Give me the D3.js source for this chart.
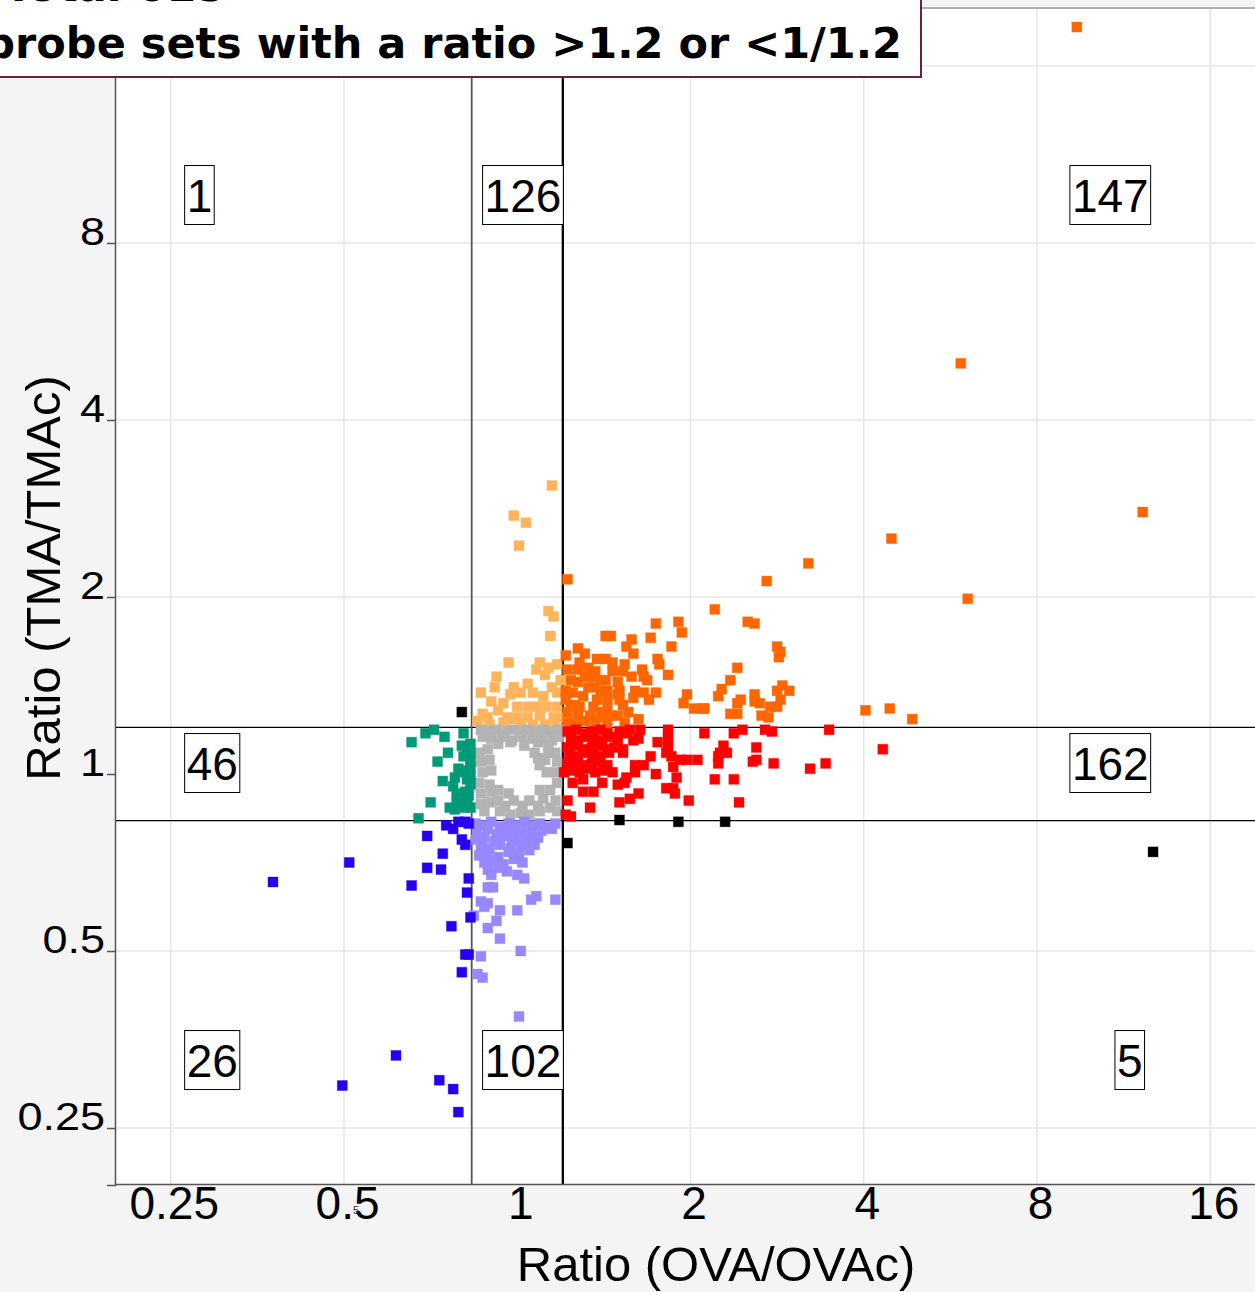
<!DOCTYPE html>
<html>
<head>
<meta charset="utf-8">
<script src="https://cdn.jsdelivr.net/npm/d3@7"></script>
<style>
  html, body { margin: 0; padding: 0; background: #f4f4f4; }
  svg { display: block; }
</style>
</head>
<body>
<svg id="chart" width="1255" height="1292"></svg>
<script>
// Each probe set is [log2(OVA/OVAc), log2(TMA/TMAc)].

// up in both comparisons
const upBoth = [
  [3.23,4.22],[2.56,2.32],[3.61,1.48],[2.16,1.33],[2.60,0.99],[1.68,1.19],[1.44,1.09],[0.29,1.10],
  [1.14,0.93],[2.01,0.36],[2.15,0.37],[2.28,0.31],[1.33,0.86],[1.37,0.85],[1.50,0.72],[1.52,0.69],
  [1.51,0.66],[1.27,0.60],[1.23,0.53],[1.18,0.48],[1.16,0.44],[1.29,0.42],[1.27,0.40],[1.23,0.34],
  [1.27,0.34],[1.08,0.37],[1.37,0.45],[1.40,0.40],[1.37,0.41],[1.50,0.47],[1.53,0.50],[1.57,0.47],
  [1.52,0.42],[1.46,0.38],[1.50,0.38],[1.41,0.33],[1.45,0.32],[0.80,0.85],[0.93,0.86],[0.95,0.80],
  [0.51,0.78],[0.54,0.78],[0.66,0.76],[0.63,0.72],[0.77,0.77],[0.89,0.72],[0.35,0.71],[0.39,0.68],
  [0.67,0.68],[0.28,0.67],[0.46,0.65],[0.51,0.65],[0.55,0.63],[0.81,0.65],[0.82,0.62],[0.62,0.62],
  [0.61,0.58],[0.41,0.60],[0.35,0.59],[0.29,0.59],[0.72,0.59],[0.73,0.55],[0.75,0.53],[0.87,0.56],
  [0.51,0.53],[0.58,0.52],[0.66,0.55],[0.42,0.55],[0.35,0.52],[0.31,0.53],[0.44,0.49],[0.52,0.47],
  [0.59,0.47],[0.68,0.47],[0.73,0.46],[0.67,0.43],[0.98,0.45],[0.96,0.40],[1.02,0.37],[1.07,0.37],
  [0.32,0.46],[0.38,0.44],[0.46,0.42],[0.52,0.42],[0.59,0.42],[0.61,0.39],[0.31,0.38],[0.36,0.38],
  [0.44,0.38],[0.52,0.38],[0.29,0.35],[0.35,0.33],[0.42,0.33],[0.49,0.35],[0.54,0.33],[0.58,0.33],
  [0.70,0.31],[0.52,0.28],[0.28,0.47],[0.28,0.42],[0.33,0.29],[0.39,0.30],[0.45,0.29],[0.29,0.29],
  [0.41,0.49],[0.48,0.47],[0.36,0.63],[0.45,0.58],[0.55,0.58],[0.48,0.53],[0.39,0.55],[0.64,0.35],
  [0.62,0.29],[0.76,0.42],[0.80,0.46],[0.58,0.45],[0.33,0.39],[0.48,0.32]
];

// up in TMA only
const upTmaOnly = [
  [0.20,1.63],[-0.02,1.46],[0.05,1.42],[0.01,1.29],[0.18,0.92],[0.21,0.89],[0.19,0.78],[-0.05,0.63],
  [0.13,0.63],[0.18,0.60],[0.23,0.62],[-0.12,0.55],[-0.13,0.49],[-0.21,0.46],[0.11,0.59],[0.06,0.51],
  [-0.02,0.49],[-0.04,0.45],[0.02,0.46],[-0.08,0.40],[-0.11,0.36],[-0.20,0.34],[-0.17,0.32],[0.09,0.46],
  [0.15,0.44],[0.20,0.49],[0.23,0.46],[0.00,0.38],[0.06,0.38],[0.11,0.38],[0.17,0.38],[0.23,0.38],
  [-0.06,0.32],[0.00,0.32],[0.06,0.32],[0.13,0.33],[0.21,0.32],[0.26,0.32],[-0.08,0.29],[-0.04,0.31],
  [-0.15,0.41],[0.16,0.56],[0.25,0.53],[0.09,0.28],[0.16,0.28],[0.02,0.28],[-0.16,0.28],[0.22,0.27],
  [-0.23,0.30]
];

// up in OVA only
const upOvaOnly = [
  [1.80,0.25],[2.11,0.14],[1.69,0.03],[1.78,0.06],[1.43,0.25],[1.47,0.24],[1.30,0.25],[1.25,0.23],
  [1.08,0.23],[1.19,0.16],[1.17,0.12],[1.21,0.12],[1.16,0.06],[1.16,0.10],[1.38,0.15],[1.38,0.08],
  [1.36,0.07],[1.48,0.06],[1.14,-0.03],[1.25,-0.03],[1.28,-0.16],[0.99,-0.15],[1.04,0.08],[0.98,0.08],
  [0.94,0.08],[0.89,0.10],[0.90,0.04],[0.92,-0.02],[0.90,-0.08],[0.86,-0.08],[0.91,-0.11],[0.87,0.25],
  [0.87,0.20],[0.87,0.15],[0.81,0.18],[0.86,0.12],[0.80,0.00],[0.77,0.10],[0.73,0.05],[0.68,0.05],
  [0.68,0.01],[0.71,0.25],[0.65,0.25],[0.63,0.23],[0.67,0.19],[0.70,0.20],[0.61,0.14],[0.61,0.12],
  [0.59,0.24],[0.58,0.19],[0.63,-0.02],[0.62,-0.05],[0.70,-0.11],[0.65,-0.14],[0.59,-0.16],[0.58,-0.06],
  [0.49,-0.05],[0.44,-0.10],[0.38,-0.10],[0.42,-0.19],[0.38,-0.03],[0.45,0.01],[0.32,-0.05],[0.29,-0.15],
  [0.28,-0.23],[0.31,-0.24],[0.27,0.01],
  [0.29,0.24],[0.34,0.25],[0.39,0.23],[0.43,0.24],[0.48,0.25],[0.52,0.23],
  [0.31,0.20],[0.35,0.19],[0.40,0.21],[0.44,0.20],[0.49,0.19],[0.54,0.21],
  [0.29,0.15],[0.33,0.16],[0.38,0.14],[0.43,0.15],[0.47,0.16],[0.52,0.14],[0.56,0.15],
  [0.30,0.11],[0.35,0.10],[0.39,0.12],[0.44,0.11],[0.48,0.10],[0.53,0.12],
  [0.29,0.06],[0.33,0.07],[0.38,0.05],[0.43,0.06],[0.47,0.07],[0.52,0.05],
  [0.32,0.02],[0.36,0.01],[0.41,0.03],[0.50,0.02],[0.55,0.01]
];

// down in OVA only
const downOvaOnly = [
  [-0.61,0.18],[-0.53,0.23],[-0.48,0.25],[-0.42,0.21],[-0.31,0.23],[-0.40,0.12],[-0.46,0.07],[-0.43,-0.04],
  [-0.50,-0.16],[-0.57,-0.25],[-0.37,-0.07],[-0.39,-0.19],[-0.35,-0.16],[-0.27,0.17],[-0.29,0.12],[-0.31,0.10],
  [-0.27,0.07],[-0.31,0.02],[-0.27,0.04],[-0.36,-0.02],[-0.33,0.01],[-0.29,-0.03],[-0.27,-0.06],[-0.33,-0.13],
  [-0.29,-0.15],[-0.27,-0.19],[-0.31,-0.19],[-0.34,0.03],[-0.27,-0.01],[-0.30,-0.10],[-0.35,-0.11],[-0.28,-0.12],
  [-0.32,0.16],[-0.27,0.12],[-0.36,-0.20]
];

// down in both comparisons
const downBoth = [
  [-1.41,-0.61],[-0.97,-0.50],[-0.61,-0.63],[-0.52,-0.35],[-0.43,-0.45],[-0.52,-0.53],[-0.44,-0.54],[-0.41,-0.29],
  [-0.37,-0.31],[-0.34,-0.27],[-0.30,-0.27],[-0.28,-0.28],[-0.32,-0.37],[-0.30,-0.40],[-0.28,-0.59],[-0.29,-0.67],
  [-0.27,-0.81],[-0.38,-0.86],[-0.28,-1.02],[-0.30,-1.02],[-0.32,-1.12],[-0.70,-1.59],[-1.01,-1.76],[-0.45,-1.73],
  [-0.37,-1.78],[-0.34,-1.91]
];

// down in TMA only
const downTmaOnly = [
  [-0.24,-0.28],[-0.19,-0.29],[-0.15,-0.27],[-0.10,-0.30],[-0.05,-0.28],[-0.01,-0.29],[0.04,-0.27],[0.09,-0.29],
  [0.13,-0.28],[0.18,-0.30],[0.22,-0.28],
  [-0.23,-0.33],[-0.17,-0.31],[-0.12,-0.34],[-0.07,-0.32],[-0.02,-0.33],[0.03,-0.31],[0.08,-0.34],[0.14,-0.32],[0.20,-0.31],
  [-0.24,-0.37],[-0.19,-0.36],[-0.13,-0.38],[-0.08,-0.35],[-0.03,-0.37],[0.02,-0.36],[0.07,-0.38],[0.12,-0.36],
  [-0.21,-0.41],[-0.16,-0.42],[-0.10,-0.40],[-0.04,-0.42],[0.02,-0.41],[0.07,-0.43],
  [-0.22,-0.46],[-0.17,-0.45],[-0.11,-0.47],[-0.05,-0.44],[0.01,-0.46],[0.10,-0.40],
  [-0.19,-0.50],[-0.14,-0.49],[-0.08,-0.51],[-0.02,-0.48],[0.03,-0.50],
  [-0.17,-0.54],[-0.11,-0.53],[-0.06,-0.55],
  [-0.15,-0.57],[0.00,-0.57],[0.04,-0.59],[-0.17,-0.64],[-0.14,-0.64],[0.08,-0.71],[0.11,-0.69],[0.22,-0.71],
  [-0.21,-0.72],[-0.17,-0.73],[-0.10,-0.77],[0.00,-0.77],[-0.25,-0.80],[-0.19,-0.75],[-0.12,-0.83],[-0.17,-0.87],
  [-0.10,-0.93],[0.02,-1.00],[-0.21,-1.03],[-0.23,-1.13],[-0.20,-1.15],[0.01,-1.37]
];

// opposite directions
const opposite = [
  [-0.32,0.35],[0.29,-0.39],[0.59,-0.26],[0.93,-0.27],[1.20,-0.27],[3.67,-0.44]
];

// below the 1.2-fold cut-off in both
const unchanged = [
  [-0.21,0.25],[-0.17,0.24],[-0.12,0.25],[-0.08,0.24],[-0.03,0.25],[0.02,0.24],[0.06,0.25],[0.11,0.24],
  [0.15,0.25],[0.20,0.24],[0.24,0.25],
  [-0.20,0.21],[-0.15,0.20],[-0.09,0.21],[-0.03,0.19],[0.03,0.21],[0.09,0.20],[0.14,0.21],[0.20,0.19],[0.24,0.21],
  [-0.11,0.17],[-0.04,0.18],[0.04,0.16],[0.12,0.18],[0.18,0.16],
  [-0.22,0.12],[-0.17,0.14],[-0.21,0.07],[-0.16,0.08],[-0.20,0.01],[-0.15,0.02],[-0.22,-0.05],[-0.16,-0.06],
  [-0.21,-0.11],[-0.15,-0.10],[-0.21,-0.17],[-0.16,-0.16],[-0.19,-0.21],
  [0.22,0.12],[0.18,0.12],[0.23,0.07],[0.16,0.08],[0.13,0.05],[0.22,0.01],[0.17,0.01],[0.23,-0.05],
  [0.19,-0.09],[0.22,-0.15],[0.19,-0.19],[0.23,-0.21],
  [-0.11,-0.15],[-0.07,-0.18],[-0.02,-0.15],[0.03,-0.18],[0.07,-0.15],[0.12,-0.18],[0.15,-0.14],
  [-0.10,-0.21],[-0.04,-0.23],[0.02,-0.22],[0.07,-0.23],[0.13,-0.21],
  [-0.11,-0.09],[-0.05,-0.11],[0.13,-0.09],[0.10,0.12],[0.12,0.09]
];

// probe-set counts per sector
const sectorNames  = ["upperLeft","upperMiddle","upperRight","middleLeft","middleRight","lowerLeft","lowerMiddle","lowerRight"];
const sectorCounts = [1, 126, 147, 46, 162, 26, 102, 5];

const xTickValues = [0.25, 0.5, 1, 2, 4, 8, 16];
const yTickValues = [0.25, 0.5, 1, 2, 4, 8, 16];
const foldCutoff = 1.2;

const titleLines = ["Total 615", "probe sets with a ratio >1.2 or <1/1.2"];
const xTitle = "Ratio (OVA/OVAc)";
const yTitle = "Ratio (TMA/TMAc)";

// ---- drawing ----
const svg = d3.select("#chart");
const W = 1255, H = 1292;
const plot = { left: 115, right: 1266, top: 9, bottom: 1185 };
const lo = Math.log2(0.2), hi = Math.log2(20);

const x = d3.scaleLinear().domain([lo, hi]).range([plot.left, plot.right]);
const y = d3.scaleLinear().domain([lo, hi]).range([plot.bottom, plot.top]);

const sans = "'Liberation Sans', Arial, Helvetica, sans-serif";

svg.append("rect").attr("width", W).attr("height", H).attr("fill", "#f4f4f4");

// plotting area
svg.append("rect")
  .attr("x", plot.left).attr("y", plot.top)
  .attr("width", plot.right - plot.left).attr("height", plot.bottom - plot.top)
  .attr("fill", "#ffffff");
svg.append("line")
  .attr("x1", plot.left).attr("x2", plot.right)
  .attr("y1", plot.top - 1).attr("y2", plot.top - 1)
  .attr("stroke", "#b0b0b0").attr("stroke-width", 2);

// grid
const grid = svg.append("g").attr("stroke", "#e6e6e6").attr("stroke-width", 1.5);
grid.selectAll("line.v").data(xTickValues.filter(v => v !== 1)).join("line")
  .attr("class", "v")
  .attr("x1", d => x(Math.log2(d))).attr("x2", d => x(Math.log2(d)))
  .attr("y1", plot.top).attr("y2", plot.bottom);
grid.selectAll("line.h").data(yTickValues.filter(v => v !== 1)).join("line")
  .attr("class", "h")
  .attr("y1", d => y(Math.log2(d))).attr("y2", d => y(Math.log2(d)))
  .attr("x1", plot.left).attr("x2", plot.right);

// fold-change cut-off lines
const cutHi = Math.log2(foldCutoff), cutLo = -Math.log2(foldCutoff);
const cuts = svg.append("g");
cuts.append("line")
  .attr("x1", plot.left).attr("x2", plot.right)
  .attr("y1", y(cutHi)).attr("y2", y(cutHi))
  .attr("stroke", "#000").attr("stroke-width", 1.3);
cuts.append("line")
  .attr("x1", plot.left).attr("x2", plot.right)
  .attr("y1", y(cutLo)).attr("y2", y(cutLo))
  .attr("stroke", "#000").attr("stroke-width", 1.3);
cuts.append("line")
  .attr("x1", x(cutLo)).attr("x2", x(cutLo))
  .attr("y1", plot.top).attr("y2", plot.bottom)
  .attr("stroke", "#555").attr("stroke-width", 1.8);
cuts.append("line")
  .attr("x1", x(cutHi)).attr("x2", x(cutHi))
  .attr("y1", plot.top).attr("y2", plot.bottom)
  .attr("stroke", "#000").attr("stroke-width", 2.3);

// points
const series = [
  { data: upTmaOnly,   color: "#ffb45c" },
  { data: upBoth,      color: "#ff6600" },
  { data: unchanged,   color: "#b3b3b3" },
  { data: upOvaOnly,   color: "#ff0000" },
  { data: downOvaOnly, color: "#009a78" },
  { data: downTmaOnly, color: "#9788ff" },
  { data: downBoth,    color: "#2600f2" },
  { data: opposite,    color: "#000000" }
];
const S = 10;
const pts = svg.append("g");
series.forEach(s => {
  pts.append("g").selectAll("rect").data(s.data).join("rect")
    .attr("x", d => x(d[0]) - S / 2)
    .attr("y", d => y(d[1]) - S / 2)
    .attr("width", S).attr("height", S)
    .attr("fill", s.color)
    .attr("stroke", s.color).attr("stroke-opacity", 0.35).attr("stroke-width", 1);
});

// y axis
const yAxis = d3.axisLeft(y)
  .tickValues(yTickValues.map(Math.log2))
  .tickFormat(v => d3.format("~g")(Math.pow(2, v)))
  .tickSize(8).tickSizeOuter(8);
const gy = svg.append("g").attr("transform", `translate(${plot.left},0)`).call(yAxis);
gy.select(".domain").attr("stroke", "#555").attr("stroke-width", 1.5);
gy.selectAll(".tick line").attr("stroke", "#555").attr("stroke-width", 1.5);
// labels are squat and wide; the baseline sits on the tick
gy.selectAll(".tick text")
  .attr("x", -10).attr("dy", 0).attr("y", 2)
  .attr("transform", "scale(1,0.86)")
  .attr("font-family", sans).attr("font-size", 45).attr("fill", "#000");

// x axis
const xAxis = d3.axisBottom(x)
  .tickValues(xTickValues.map(Math.log2))
  .tickFormat(v => d3.format("~g")(Math.pow(2, v)))
  .tickSize(0).tickSizeOuter(0);
const gx = svg.append("g").attr("transform", `translate(0,${plot.bottom - 1})`).call(xAxis);
gx.select(".domain").attr("stroke", "#555").attr("stroke-width", 1.5);
gx.selectAll(".tick text")
  .attr("y", 35).attr("dy", 0).attr("dx", 3)
  .attr("font-family", sans).attr("font-size", 46).attr("fill", "#000");

svg.append("text")
  .attr("x", 356).attr("y", 1214)
  .attr("text-anchor", "middle")
  .attr("font-family", sans).attr("font-size", 11).attr("fill", "#333")
  .text("5");

// axis titles
svg.append("text")
  .attr("x", 716).attr("y", 1281)
  .attr("text-anchor", "middle")
  .attr("font-family", sans).attr("font-size", 49).attr("fill", "#000")
  .text(xTitle);
svg.append("text")
  .attr("transform", "translate(60,578) rotate(-90)")
  .attr("text-anchor", "middle")
  .attr("font-family", sans).attr("font-size", 49).attr("fill", "#000")
  .text(yTitle);

// sector count boxes: left edge of each box (log2 units) and row centre
const boxLeft = {
  upperLeft: -1.92, middleLeft: -1.92, lowerLeft: -1.92,
  upperMiddle: -0.2, lowerMiddle: -0.2,
  upperRight: 3.19, middleRight: 3.19, lowerRight: 3.45
};
const rowCenter = { upper: 3.271, middle: 0.062, lower: -1.616 };
const boxes = svg.append("g");
sectorNames.forEach((name, i) => {
  const row = name.startsWith("upper") ? "upper" : name.startsWith("middle") ? "middle" : "lower";
  const cy = y(rowCenter[row]);
  const g = boxes.append("g");
  const rect = g.append("rect").attr("fill", "#fff").attr("stroke", "#000").attr("stroke-width", 1);
  const t = g.append("text")
    .attr("font-family", sans).attr("font-size", 46).attr("fill", "#000")
    .text(sectorCounts[i]);
  const w = t.node().getComputedTextLength();
  const bw = w + 4, bh = 59;
  const bx = x(boxLeft[name]);
  rect.attr("x", bx).attr("y", cy - bh / 2).attr("width", bw).attr("height", bh);
  t.attr("x", bx + 2).attr("y", cy + 16.5);
});

// title box
const tb = svg.append("g");
tb.append("rect")
  .attr("x", -10).attr("y", -10).attr("width", 931).attr("height", 87)
  .attr("fill", "#fff").attr("stroke", "#6e1e42").attr("stroke-width", 2);
tb.append("text")
  .attr("x", 902).attr("y", 58).attr("text-anchor", "end")
  .attr("font-family", "'DejaVu Sans', Verdana, sans-serif").attr("font-weight", "bold")
  .attr("font-size", 43).attr("fill", "#000")
  .text(titleLines[1]);
tb.append("text")
  .attr("x", 4).attr("y", 1).attr("text-anchor", "start")
  .attr("font-family", "'DejaVu Sans', Verdana, sans-serif").attr("font-weight", "bold")
  .attr("font-size", 43).attr("fill", "#000")
  .text(titleLines[0]);
</script>
</body>
</html>
